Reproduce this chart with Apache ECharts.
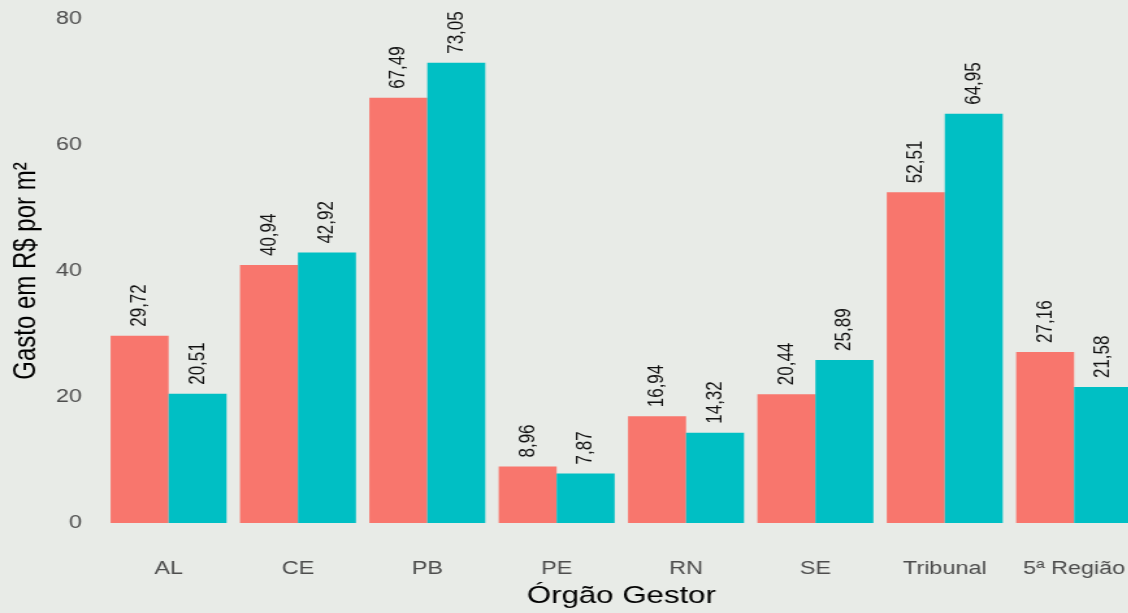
<!DOCTYPE html>
<html>
<head>
<meta charset="utf-8">
<script src="https://cdn.jsdelivr.net/npm/echarts@6/dist/echarts.min.js"></script>
<style>
  html, body { margin: 0; padding: 0; background: #e8ebe7; width: 1128px; height: 613px; overflow: hidden; }
  /* the original figure was saved stretched sideways, so the chart is drawn narrower and widened */
  #chart { width: 900px; height: 613px; transform: scaleX(1.3); transform-origin: 0 0; }
</style>
</head>
<body>
<div id="chart"></div>
<script>
  // órgãos gestores (eixo x)
  const orgaos = ['AL', 'CE', 'PB', 'PE', 'RN', 'SE', 'Tribunal', '5ª Região'];
  // gasto em R$ por m² — primeira série (salmão) e segunda (ciano)
  const gastoA = [29.72, 40.94, 67.49, 8.96, 16.94, 20.44, 52.51, 27.16];
  const gastoB = [20.51, 42.92, 73.05, 7.87, 14.32, 25.89, 64.95, 21.58];
  const yTicks = [0, 20, 40, 60, 80];

  const myChart = echarts.init(document.getElementById('chart'));

  const fmt = function (p) {
    return p.value.toFixed(2).replace('.', ',');
  };

  const barLabel = {
    show: true,
    position: 'top',
    rotate: 90,
    align: 'left',
    verticalAlign: 'middle',
    distance: 9,
    color: '#111',
    fontSize: 17,
    fontFamily: 'Liberation Sans',
    formatter: fmt
  };

  let option = {
    backgroundColor: '#e8ebe7',
    animation: false,
    grid: {
      left: 75,
      top: 19,
      width: 801,
      bottom: 86,
      containLabel: false
    },
    xAxis: {
      type: 'category',
      data: orgaos,
      name: 'Órgão Gestor',
      nameLocation: 'middle',
      nameGap: 61,
      nameTextStyle: { color: '#000', fontSize: 24, fontFamily: 'Liberation Sans' },
      axisLine: { show: false },
      axisTick: { show: false },
      axisLabel: { interval: 0, color: '#4d4d4d', fontSize: 18, margin: 37, fontFamily: 'Liberation Sans' },
      splitLine: { show: false }
    },
    yAxis: {
      type: 'value',
      min: yTicks[0],
      max: yTicks[yTicks.length - 1],
      interval: 20,
      name: 'Gasto em R$ por m²',
      nameLocation: 'middle',
      nameGap: 45,
      nameRotate: 90,
      nameTextStyle: { color: '#000', fontSize: 24, fontFamily: 'Liberation Sans' },
      axisLine: { show: false },
      axisTick: { show: false },
      axisLabel: { color: '#4d4d4d', fontSize: 18, margin: 17, fontFamily: 'Liberation Sans' },
      splitLine: { show: false }
    },
    series: [
      {
        name: 'Série 1',
        type: 'bar',
        data: gastoA,
        barWidth: 44.6,
        barGap: '0%',
        itemStyle: { color: '#F8766D' },
        label: barLabel
      },
      {
        name: 'Série 2',
        type: 'bar',
        data: gastoB,
        barWidth: 44.6,
        barGap: '0%',
        itemStyle: { color: '#00BFC4' },
        label: barLabel
      }
    ]
  };

  myChart.setOption(option);
  window.addEventListener('resize', function () {
    myChart.resize();
  });
</script>
</body>
</html>
